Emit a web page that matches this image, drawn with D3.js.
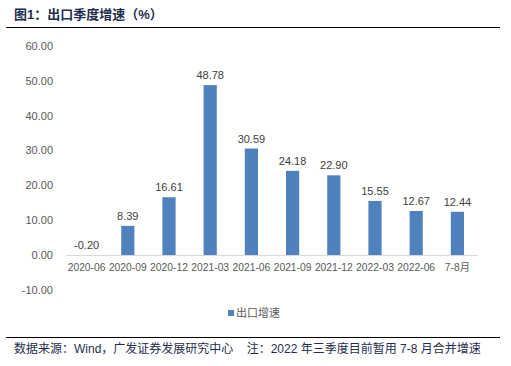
<!DOCTYPE html>
<html><head><meta charset="utf-8">
<script src="https://cdn.jsdelivr.net/npm/d3@7"></script>
<style>body{margin:0;background:#fff;}svg{display:block;}</style>
</head><body>
<script>
const categories = ["2020-06","2020-09","2020-12","2021-03","2021-06","2021-09","2021-12","2022-03","2022-06","7-8月"];
const values = [-0.20, 8.39, 16.61, 48.78, 30.59, 24.18, 22.90, 15.55, 12.67, 12.44];
const yTicks = [-10, 0, 10, 20, 30, 40, 50, 60];
const seriesName = "出口增速";
const title = "图1：出口季度增速（%）";
const footer = "数据来源：Wind，广发证券发展研究中心    注：2022 年三季度目前暂用 7-8 月合并增速";

const W = 511, H = 366;
const svg = d3.select("body").append("svg").attr("width", W).attr("height", H);
const font = "'Liberation Sans', Arial, 'Noto Sans CJK SC', sans-serif";
const cjk = "'Liberation Sans', 'Noto Sans CJK SC', sans-serif";
const fmt = d => d3.format(".2f")(d).replace("−", "-");

svg.append("text").attr("x", 14).attr("y", 19).attr("font-family", cjk).attr("font-weight", "bold")
  .attr("font-size", 13).attr("fill", "#1F2D4E").text(title);
svg.append("line").attr("x1", 6).attr("x2", 500).attr("y1", 27.5).attr("y2", 27.5).attr("stroke", "#000").attr("stroke-width", 1.2);

const x = d3.scaleBand().domain(categories).range([66, 478]).paddingInner(0.68).paddingOuter(0.34);
const y = d3.scaleLinear().domain([-10, 60]).range([290, 46]);

svg.append("g").selectAll("text").data(yTicks).join("text")
  .attr("x", 53).attr("y", d => y(d)).attr("dy", "0.35em").attr("text-anchor", "end")
  .attr("font-family", font).attr("font-size", 11).attr("fill", "#595959")
  .text(fmt);

svg.append("g").selectAll("rect").data(values).join("rect")
  .attr("x", (d, i) => x(categories[i]))
  .attr("width", x.bandwidth())
  .attr("y", d => Math.min(y(d), y(0)))
  .attr("height", d => Math.abs(y(d) - y(0)))
  .attr("fill", "#4F81BD");

svg.append("line").attr("x1", 66).attr("x2", 478).attr("y1", Math.round(y(0)) + 0.5).attr("y2", Math.round(y(0)) + 0.5)
  .attr("stroke", "#D9D9D9").attr("stroke-width", 1);

svg.append("g").selectAll("text").data(values).join("text")
  .attr("x", (d, i) => x(categories[i]) + x.bandwidth() / 2)
  .attr("y", d => (d >= 0 ? y(d) : y(0)) - 6)
  .attr("text-anchor", "middle")
  .attr("font-family", font).attr("font-size", 11).attr("fill", "#404040")
  .text(fmt);

svg.append("g").selectAll("text").data(categories).join("text")
  .attr("x", d => x(d) + x.bandwidth() / 2).attr("y", 267).attr("dy", "0.35em")
  .attr("text-anchor", "middle")
  .attr("font-family", font).attr("font-size", 10.3).attr("fill", "#595959")
  .text(d => d);

svg.append("rect").attr("x", 228).attr("y", 310).attr("width", 6).attr("height", 6).attr("fill", "#4F81BD");
svg.append("text").attr("x", 236).attr("y", 313).attr("dy", "0.35em").attr("font-family", cjk)
  .attr("font-size", 11).attr("fill", "#595959").text(seriesName);

svg.append("line").attr("x1", 6).attr("x2", 500).attr("y1", 337.5).attr("y2", 337.5).attr("stroke", "#000").attr("stroke-width", 1.2);
svg.append("text").attr("x", 14).attr("y", 349).attr("dy", "0.35em").attr("font-family", cjk)
  .attr("font-size", 12).attr("fill", "#1F2D4E").style("white-space", "pre").text(footer);
</script>
</body></html>
